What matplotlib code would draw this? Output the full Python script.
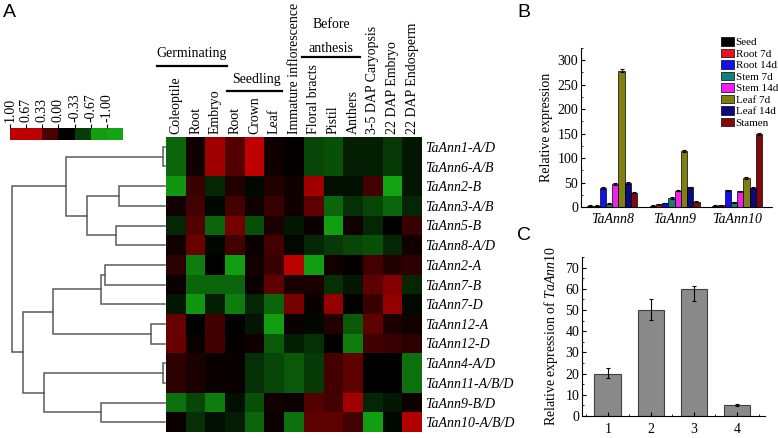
import numpy as np
import matplotlib
matplotlib.use("Agg")
import matplotlib.pyplot as plt
from matplotlib.colors import LinearSegmentedColormap, Normalize
from matplotlib.lines import Line2D
from matplotlib.ticker import MultipleLocator

plt.rcParams['font.family'] = ['Liberation Serif', 'DejaVu Serif']
plt.rcParams['mathtext.fontset'] = 'custom'
plt.rcParams['mathtext.rm'] = 'Liberation Serif'
plt.rcParams['mathtext.it'] = 'Liberation Serif:italic'

# ---- panel A data ----
genes = ['TaAnn1-A/D', 'TaAnn6-A/B', 'TaAnn2-B', 'TaAnn3-A/B', 'TaAnn5-B',
         'TaAnn8-A/D', 'TaAnn2-A', 'TaAnn7-B', 'TaAnn7-D', 'TaAnn12-A',
         'TaAnn12-D', 'TaAnn4-A/D', 'TaAnn11-A/B/D', 'TaAnn9-B/D', 'TaAnn10-A/B/D']
tissues = ['Coleoptile', 'Root', 'Embryo', 'Root', 'Crown', 'Leaf',
           'Immature inflorescence', 'Floral bracts', 'Pistil', 'Anthers',
           '3-5 DAP Caryopsis', '22 DAP Embryo', '22 DAP Endosperm']
expr = np.array([
    [-0.47, 0.12, 0.59, 0.36, 0.71, 0.12, 0.04, -0.36, -0.40, -0.20, -0.20, -0.32, -0.16],
    [-0.47, 0.12, 0.59, 0.36, 0.71, 0.12, 0.04, -0.36, -0.40, -0.20, -0.20, -0.32, -0.16],
    [-0.63, 0.28, -0.24, 0.20, -0.08, 0.20, 0.12, 0.59, -0.12, -0.12, 0.32, -0.71, -0.16],
    [0.12, 0.32, -0.08, 0.32, 0.12, 0.28, 0.12, 0.40, -0.47, -0.28, -0.36, -0.47, -0.24],
    [-0.24, 0.36, -0.47, 0.47, -0.40, 0.16, -0.16, 0.08, -0.67, 0.12, -0.24, 0.00, 0.28],
    [0.12, 0.43, -0.08, 0.32, 0.08, 0.32, -0.08, -0.24, -0.32, -0.36, -0.40, -0.24, 0.12],
    [0.24, -0.55, 0.00, -0.67, 0.12, 0.28, 0.67, -0.67, 0.12, 0.04, 0.32, 0.20, 0.24],
    [0.08, -0.47, -0.47, -0.47, 0.08, 0.40, 0.16, 0.16, -0.28, -0.16, 0.40, 0.51, -0.24],
    [-0.16, -0.63, -0.20, -0.55, -0.24, -0.47, 0.47, 0.08, 0.55, 0.00, 0.28, 0.55, -0.08],
    [0.43, 0.00, 0.32, 0.00, -0.16, -0.67, 0.08, -0.08, 0.20, -0.43, 0.40, 0.16, 0.12],
    [0.43, 0.08, 0.32, 0.04, 0.12, -0.43, -0.20, -0.28, 0.00, -0.55, 0.32, 0.28, 0.24],
    [0.24, 0.16, 0.08, 0.08, -0.28, -0.36, -0.43, -0.32, 0.32, 0.40, 0.00, 0.00, -0.51],
    [0.24, 0.16, 0.08, 0.08, -0.28, -0.36, -0.43, -0.32, 0.32, 0.40, 0.00, 0.00, -0.51],
    [-0.51, -0.36, -0.55, -0.12, -0.40, 0.12, 0.08, 0.36, 0.32, 0.59, -0.24, -0.16, 0.08],
    [0.08, -0.28, -0.12, -0.20, -0.47, 0.08, -0.51, 0.40, 0.40, 0.32, -0.67, -0.08, 0.63],
])
# dendrogram merges (child a, child b, distance); new node ids start at 15
merges = [(0, 1, 0.01), (2, 3, 0.30), (4, 5, 0.32), (16, 17, 0.51), (15, 18, 0.65),
          (6, 7, 0.39), (20, 8, 0.42), (9, 10, 0.09), (21, 22, 0.73),
          (11, 12, 0.01), (13, 14, 0.42), (24, 25, 0.79), (23, 26, 0.93), (19, 27, 1.00)]
cb_vals = [1.00, 0.67, 0.33, 0.00, -0.33, -0.67, -1.00]

# ---- panel B data ----
genes_b = ['TaAnn8', 'TaAnn9', 'TaAnn10']
tissues_b = ['Seed', 'Root 7d', 'Root 14d', 'Stem 7d', 'Stem 14d', 'Leaf 7d', 'Leaf 14d', 'Stamen']
colors_b = ['#000000', '#e8121a', '#1010f0', '#138080', '#f020f0', '#808010', '#0a0a80', '#800a0a']
vals_b = [[3, 3, 3], [3, 5.5, 3.5], [39, 8, 34], [7, 18.5, 10], [47, 33.5, 32],
          [279, 114, 59], [49, 40, 39.5], [29, 11, 149]]
err_b = [[0.5, 0.5, 0.5], [0.5, 0.5, 0.5], [1.5, 0.8, 1.2], [0.6, 1.2, 1], [1.5, 1.2, 1.2],
         [2.5, 2, 2], [1.5, 1.2, 1.2], [1, 0.8, 2]]

# ---- panel C data ----
groups_c = ['1', '2', '3', '4']
vals_c = [20, 50, 60, 5]
err_c_lo = [1.9, 4.9, 5.9, 0.4]
err_c_hi = [2.6, 5.3, 1.2, 0.5]

W, H = 778, 438
fig = plt.figure(figsize=(W / 100, H / 100), dpi=100)


def box(x0, y0, x1, y1):
    return [x0 / W, 1 - y1 / H, (x1 - x0) / W, (y1 - y0) / H]


def fx(x, y):
    return x / W, 1 - y / H


# red/black/green key, saturating at +-0.67, darker towards the middle
green = np.array([0x12, 0xa4, 0x12]) / 255
red = np.array([0xc0, 0x00, 0x00]) / 255
nodes = []
for t in np.linspace(0, 1, 21):
    k = min(t / 0.67, 1.0) ** 1.4
    nodes.append((0.5 - t / 2, tuple(green * k)))
    nodes.append((0.5 + t / 2, tuple(red * k)))
nodes = sorted(set(nodes))
cmap = LinearSegmentedColormap.from_list('rg', nodes)
norm = Normalize(-1, 1)

# heatmap
ax = fig.add_axes(box(166, 137, 422, 432))
ax.imshow(expr, cmap=cmap, norm=norm, aspect='auto', interpolation='nearest')
ax.set_xticks(range(len(tissues)))
ax.set_xticklabels(tissues, rotation=90, fontsize=10)
ax.xaxis.tick_top()
ax.set_yticks(range(len(genes)))
ax.set_yticklabels(genes, fontsize=10, style='italic')
ax.yaxis.tick_right()
ax.tick_params(length=0, pad=2.5)
for s in ax.spines.values():
    s.set_visible(False)

# dendrogram
dax = fig.add_axes(box(12, 137, 165, 432))
pos = {i: (0.0, float(i)) for i in range(len(genes))}
nid = len(genes)
for a, b, d in merges:
    xa, ya = pos[a]
    xb, yb = pos[b]
    dax.plot([xa, d, d, xb], [ya, ya, yb, yb], color='#5a5a5a', lw=1.1,
             clip_on=False, solid_joinstyle='miter')
    pos[nid] = (d, (ya + yb) / 2)
    nid += 1
dax.set_xlim(1.0, 0.0)
dax.set_ylim(len(genes) - 0.5, -0.5)
dax.axis('off')

# colour key
cax = fig.add_axes(box(10, 128, 123, 140))
cax.imshow(np.array(cb_vals).reshape(1, -1), cmap=cmap, norm=norm, aspect='auto')
cax.set_xticks(np.arange(len(cb_vals)) - 0.5)
cax.set_xticklabels(['%.2f' % v for v in cb_vals], rotation=90, fontsize=10)
cax.xaxis.tick_top()
cax.tick_params(axis='x', length=3, pad=1)
cax.set_yticks([])
for s in cax.spines.values():
    s.set_visible(False)

# group headers
for txt, (x, y) in [('Germinating', (192, 53)), ('Seedling', (256, 79)),
                    ('Before', (331, 24)), ('anthesis', (331, 48))]:
    fig.text(*fx(x, y), txt, ha='center', va='center', fontsize=10)
for x0, x1, y in [(157, 227, 66), (227, 282, 91), (302, 360, 57)]:
    fig.add_artist(Line2D([x0 / W, x1 / W], [1 - y / H, 1 - y / H], color='black', lw=1.6))

# panel B
bx = fig.add_axes(box(581, 48, 772, 207))
xg = np.arange(len(genes_b))
bw = 0.1
for k, t in enumerate(tissues_b):
    bx.bar(xg + (k - 3.5) * bw, vals_b[k], bw, yerr=err_b[k], color=colors_b[k],
           edgecolor='black', linewidth=0.5, label=t,
           error_kw=dict(elinewidth=0.8, capsize=1.5, capthick=0.8))
bx.set_xlim(-0.5, 2.56)
bx.set_ylim(0, 325)
bx.set_xticks(xg)
bx.set_xticklabels(genes_b, style='italic', fontsize=10)
bx.yaxis.set_major_locator(MultipleLocator(50))
bx.yaxis.set_minor_locator(MultipleLocator(25))
bx.tick_params(direction='in', length=3, labelsize=10, pad=2)
bx.tick_params(which='minor', direction='in', length=1.5)
bx.tick_params(axis='x', length=0, pad=4)
bx.spines['top'].set_visible(False)
bx.spines['right'].set_visible(False)
bx.set_ylabel('Relative expression', fontsize=10, labelpad=3)
bx.legend(loc='upper left', bbox_to_anchor=fx(721, 37), bbox_transform=fig.transFigure,
          frameon=False, fontsize=8, handlelength=1.2, handleheight=0.8,
          handletextpad=0.12, labelspacing=0.13, borderpad=0, borderaxespad=0)

# panel C
cx = fig.add_axes(box(582, 257, 765, 416))
xc = np.arange(1, len(groups_c) + 1)
cx.bar(xc, vals_c, 0.62, yerr=[err_c_lo, err_c_hi], color='#8a8a8a', edgecolor='#404040',
       linewidth=0.8, error_kw=dict(elinewidth=0.8, capsize=1.5, capthick=0.8))
cx.set_xlim(0.4, 4.65)
cx.set_ylim(0, 75)
cx.set_xticks(xc)
cx.set_xticklabels(groups_c)
cx.xaxis.set_minor_locator(MultipleLocator(0.5))
cx.yaxis.set_major_locator(MultipleLocator(10))
cx.yaxis.set_minor_locator(MultipleLocator(5))
cx.tick_params(direction='in', length=3, labelsize=10, pad=2)
cx.tick_params(which='minor', direction='in', length=1.5)
cx.tick_params(axis='x', pad=5)
cx.spines['top'].set_visible(False)
cx.spines['right'].set_visible(False)
cx.set_ylabel(r'Relative expression of $\mathit{TaAnn10}$', fontsize=10, labelpad=4)

# panel letters
for letter, (x, y) in [('A', (3, 4)), ('B', (517, 4)), ('C', (517, 227))]:
    fig.text(*fx(x, y), letter, ha='left', va='top', fontsize=14,
             family=['Liberation Sans', 'DejaVu Sans'])

fig.savefig('out.png', dpi=100)
